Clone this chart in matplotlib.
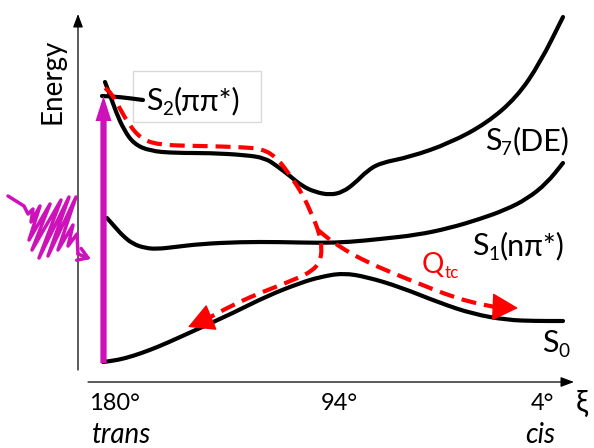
import numpy as np
import matplotlib
matplotlib.use("Agg")
import matplotlib.pyplot as plt
from matplotlib.path import Path
from matplotlib.patches import PathPatch, Rectangle

# ---- curve data (x = reaction coordinate in px, y = energy in px, screen-down) ----
s27_x = [105, 110, 116, 124, 134, 150, 175, 210, 245, 265, 277, 290, 302, 315, 330, 343, 355, 367, 380, 410, 450, 487, 517, 540, 563]
s27_y = [82, 95, 112, 130, 144, 151, 153, 153, 155, 158, 166, 176, 186, 192, 195, 192, 183, 171, 163, 157, 143, 123, 97, 63, 17]
s2_stub_x = [102, 120, 143]
s2_stub_y = [96, 97, 100]
s1_x = [107, 115, 123, 133, 145, 157, 175, 200, 240, 280, 320, 350, 380, 417, 450, 480, 505, 527, 547, 563]
s1_y = [218, 227, 236, 244, 248, 249, 247, 244, 242, 242, 243, 242, 239, 235, 228, 219, 210, 199, 183, 163]
s0_x = [103, 118, 133, 150, 167, 200, 233, 267, 300, 320, 343, 367, 400, 440, 473, 507, 535, 563]
s0_y = [362, 360, 356, 350, 343, 328, 313, 296, 283, 277, 273, 277, 287, 303, 314, 320, 321, 321]

# red dashed trajectories
back_x = [105, 111, 118, 128, 140, 158, 200, 240, 263, 277, 290, 303, 312, 319, 322, 320, 312, 298, 273, 250, 225, 205, 188]
back_y = [88, 93, 105, 123, 138, 145, 146, 147, 149, 158, 175, 195, 215, 232, 248, 262, 271, 278, 288, 297, 309, 320, 327]
fwd_x = [318, 330, 345, 365, 390, 420, 445, 470, 495, 518]
fwd_y = [230, 240, 250, 261, 272, 284, 294, 302, 307, 308]

# photon squiggle (hand-drawn zigzag)
photon_x = [8, 24, 28, 33, 31, 40, 29, 50, 32, 61, 39, 69, 48, 76, 58, 73, 68, 77, 78, 91]
photon_y = [196, 206, 214, 209, 222, 206, 240, 204, 250, 200, 258, 197, 256, 197, 250, 225, 246, 234, 254, 259]

tick_pos = [114, 339, 542]
tick_labels = ["180°", "94°", "4°"]

FONT = ["Lato", "Noto Sans", "DejaVu Sans"]
RED = "#FF0000"
MAG = "#CC12B8"


def smooth_path(xs, ys):
    pts = np.column_stack([xs, ys]).astype(float)
    mids = (pts[:-1] + pts[1:]) / 2
    verts, codes = [pts[0], mids[0]], [Path.MOVETO, Path.LINETO]
    for i in range(1, len(pts) - 1):
        verts += [pts[i], mids[i]]
        codes += [Path.CURVE3, Path.CURVE3]
    verts.append(pts[-1]); codes.append(Path.LINETO)
    return Path(verts, codes)


def curve(ax, xs, ys, **kw):
    ax.add_patch(PathPatch(smooth_path(xs, ys), fill=False, capstyle="round", joinstyle="round", **kw))


def state_label(ax, x, y, base, sub, rest, size=22, color="k"):
    t1 = ax.text(x, y, base, fontsize=size, family=FONT, color=color, va="baseline")
    t2 = ax.annotate(sub, xy=(1, y), xycoords=(t1, "data"), xytext=(0, -3.5), textcoords="offset points",
                     fontsize=size * 0.62, family=FONT, color=color, va="baseline")
    if rest:
        ax.annotate(rest, xy=(1, y), xycoords=(t2, "data"), xytext=(0, 0), textcoords="offset points",
                    fontsize=size, family=FONT, color=color, va="baseline")


fig = plt.figure(figsize=(5.94, 4.48), dpi=100)
ax = fig.add_axes([0, 0, 1, 1])
ax.set_xlim(0, 594); ax.set_ylim(448, 0); ax.axis("off")

# axes arrows
ax.annotate("", xy=(78, 14), xytext=(78, 370),
            arrowprops=dict(arrowstyle="-|>,head_length=0.8,head_width=0.3", lw=0.9, color="k", shrinkA=0, shrinkB=0, mutation_scale=10))
ax.annotate("", xy=(574, 382), xytext=(88, 382),
            arrowprops=dict(arrowstyle="-|>,head_length=0.8,head_width=0.3", lw=0.9, color="k", shrinkA=0, shrinkB=0, mutation_scale=10))
ax.text(53, 81, "Energy", rotation=90, fontsize=20, family=FONT, ha="center", va="center")
for x, lab in zip(tick_pos, tick_labels):
    ax.text(x, 403, lab, fontsize=17, family=FONT, ha="center", va="center")
ax.text(582, 403, "ξ", fontsize=22, family=FONT, ha="center", va="center")
ax.text(122, 443, "trans", fontsize=20, family=FONT, style="italic", ha="center", va="baseline")
ax.text(540, 443, "cis", fontsize=20, family=FONT, style="italic", ha="center", va="baseline")

# potential energy curves
for xs, ys in [(s27_x, s27_y), (s2_stub_x, s2_stub_y), (s1_x, s1_y), (s0_x, s0_y)]:
    curve(ax, xs, ys, lw=3, edgecolor="k", zorder=3)

# excitation arrow + photon
ax.annotate("", xy=(103.5, 96), xytext=(103.5, 363),
            arrowprops=dict(arrowstyle="simple,head_length=1.8,head_width=1.15,tail_width=0.45",
                            color=MAG, lw=0, shrinkA=0, shrinkB=0, mutation_scale=10), zorder=4)
ax.plot(photon_x[:-1], photon_y[:-1], lw=2.5, color=MAG, solid_joinstyle="round", solid_capstyle="round", zorder=4)
ax.annotate("", xy=(photon_x[-1], photon_y[-1]), xytext=(photon_x[-2], photon_y[-2]),
            arrowprops=dict(arrowstyle="->,head_length=0.7,head_width=0.45", lw=2.5, color=MAG,
                            shrinkA=0, shrinkB=0, mutation_scale=10), zorder=4)

# trajectories
for xs, ys in [(back_x, back_y), (fwd_x, fwd_y)]:
    ax.add_patch(PathPatch(smooth_path(xs[:-1], ys[:-1]), fill=False, lw=3, edgecolor=RED,
                           linestyle=(0, (3.6, 1.9)), zorder=5))
    ax.annotate("", xy=(xs[-1], ys[-1]), xytext=(xs[-2], ys[-2]),
                arrowprops=dict(arrowstyle="-|>,head_length=1.4,head_width=0.75", lw=1, color=RED,
                                shrinkA=0, shrinkB=0, mutation_scale=12), zorder=5)

# labels
ax.add_patch(Rectangle((133, 71), 128, 51, fill=False, edgecolor="#d9d9d9", lw=1, zorder=2))
state_label(ax, 146, 110, "S", "2", "(ππ*)")
state_label(ax, 485, 150, "S", "7", "(DE)")
state_label(ax, 472, 255, "S", "1", "(nπ*)")
state_label(ax, 542, 352, "S", "0", "")
state_label(ax, 422, 273, "Q", "tc", "", size=20, color=RED)

fig.savefig("out.png", dpi=100)
